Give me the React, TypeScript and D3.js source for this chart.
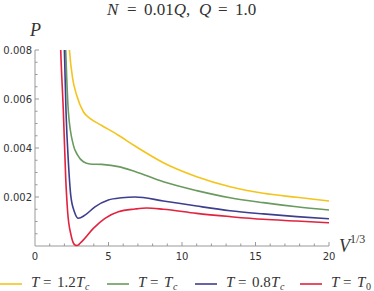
import React from "react";
import { scaleLinear, line, curveMonotoneX, range } from "d3";

const W = 374;
const H = 291;

// yellow, T = 1.2 Tc
const yellowV = [2.25, 2.34, 2.56, 2.83, 3.29, 3.74, 4.54, 5.67, 6.8, 8.73, 11.0, 13.27, 15.53, 17.8, 20];
const yellowP = [0.0088, 0.008, 0.00684, 0.00616, 0.00548, 0.00521, 0.00492, 0.00452, 0.00408, 0.0034, 0.00283, 0.00242, 0.00215, 0.00199, 0.00184];

// green, T = Tc
const greenV = [2.03, 2.09, 2.16, 2.27, 2.61, 2.9, 3.29, 3.74, 4.54, 5.67, 6.8, 8.73, 11.0, 13.27, 15.53, 17.8, 20];
const greenP = [0.009, 0.008, 0.00684, 0.00548, 0.00412, 0.00371, 0.00344, 0.00335, 0.00333, 0.00324, 0.00304, 0.00262, 0.00226, 0.00197, 0.00177, 0.0016, 0.00147];

// blue, T = 0.8 Tc
const blueV = [1.95, 2.0, 2.11, 2.27, 2.43, 2.68, 2.95, 3.4, 4.08, 4.99, 5.9, 6.8, 8.73, 11.0, 13.27, 15.53, 17.8, 20];
const blueP = [0.009, 0.008, 0.00548, 0.00344, 0.00208, 0.0014, 0.00113, 0.00126, 0.0016, 0.00188, 0.00197, 0.002, 0.00184, 0.00163, 0.00144, 0.00131, 0.0012, 0.00111];

// red, T = T0
const redV = [1.7, 1.75, 1.93, 2.09, 2.22, 2.45, 2.72, 2.85, 3.18, 3.97, 4.76, 5.67, 6.8, 7.6, 8.73, 11.0, 13.27, 15.53, 17.8, 20];
const redP = [0.009, 0.008, 0.00548, 0.00276, 0.0014, 0.00045, 0.00004, 0.00002, 0.00018, 0.00072, 0.00113, 0.0014, 0.00151, 0.00155, 0.0015, 0.00133, 0.0012, 0.00109, 0.00102, 0.00095];

const xTicks = [0, 5, 10, 15, 20];
const yTicks = [0.002, 0.004, 0.006, 0.008];
const yTickLabels = ["0.002", "0.004", "0.006", "0.008"];

const series = [
  { v: yellowV, p: yellowP, color: "#f4c41c", coef: "1.2", sub: "c" },
  { v: greenV, p: greenP, color: "#6a9a5e", coef: "", sub: "c" },
  { v: blueV, p: blueP, color: "#3e3e8f", coef: "0.8", sub: "c" },
  { v: redV, p: redP, color: "#e3223e", coef: "", sub: "0" },
];

const legendX = [0, 107, 195, 300];

const serif = "'Liberation Serif', 'DejaVu Serif', serif";
const sans = "'DejaVu Sans', sans-serif";
const axisColor = "#999";
const textColor = "#333";

export default function App() {
  const x = scaleLinear().domain([0, 20]).range([35, 329]);
  const y = scaleLinear().domain([0, 0.008]).range([246, 50]);

  const makePath = (v: number[], p: number[]) =>
    line<number>()
      .x((_, i) => x(v[i]))
      .y((_, i) => y(p[i]))
      .curve(curveMonotoneX)(v) || "";

  return (
    <svg
      width={W}
      height={H}
      style={{ position: "absolute", left: 0, top: 0, background: "#fff" }}
    >
      <defs>
        <clipPath id="plot">
          <rect x={x(0)} y={y(0.008)} width={x(20) - x(0) + 2} height={y(0) - y(0.008) + 2} />
        </clipPath>
      </defs>

      {/* title, spaced like TeX math */}
      <text y={15} fontFamily={serif} fontSize={17} fill={textColor}>
        <tspan x={107} fontStyle="italic">N</tspan>
        <tspan x={127}>=</tspan>
        <tspan x={144}>0.01</tspan>
        <tspan fontStyle="italic">Q</tspan>
        <tspan>,</tspan>
        <tspan x={199} fontStyle="italic">Q</tspan>
        <tspan x={218}>=</tspan>
        <tspan x={235}>1.0</tspan>
      </text>

      {/* axes */}
      <line x1={x(0)} x2={x(20)} y1={y(0)} y2={y(0)} stroke={axisColor} strokeWidth={1} />
      <line x1={x(0)} x2={x(0)} y1={y(0)} y2={y(0.008)} stroke={axisColor} strokeWidth={1} />

      {range(1, 21).map((t) => (
        <line
          key={"xt" + t}
          x1={x(t)}
          x2={x(t)}
          y1={y(0)}
          y2={y(0) - (t % 5 === 0 ? 4 : 2.5)}
          stroke={axisColor}
        />
      ))}
      {range(1, 17).map((k) => {
        const t = k * 0.0005;
        return (
          <line
            key={"yt" + k}
            x1={x(0)}
            x2={x(0) + (k % 4 === 0 ? 4 : 2.5)}
            y1={y(t)}
            y2={y(t)}
            stroke={axisColor}
          />
        );
      })}

      {xTicks.map((t) => (
        <text key={"xl" + t} x={x(t)} y={260} textAnchor="middle" fontFamily={sans} fontSize={10} fill={textColor}>
          {t}
        </text>
      ))}
      {yTicks.map((t, i) => (
        <text key={"yl" + t} x={32} y={y(t) + 3.5} textAnchor="end" fontFamily={sans} fontSize={10} fill={textColor}>
          {yTickLabels[i]}
        </text>
      ))}

      {/* axis labels */}
      <text x={30} y={36} fontFamily={serif} fontSize={18} fontStyle="italic" fill={textColor}>
        P
      </text>
      <text x={339} y={252} fontFamily={serif} fontSize={18} fill={textColor}>
        <tspan fontStyle="italic">V</tspan>
        <tspan fontSize={12} dy={-9}>1/3</tspan>
      </text>

      {/* curves */}
      <g clipPath="url(#plot)">
        {series.map((s) => (
          <path key={s.color} d={makePath(s.v, s.p)} fill="none" stroke={s.color} strokeWidth={1.6} />
        ))}
      </g>

      {/* legend */}
      {series.map((s, i) => {
        const cw = s.coef ? 19 : 0;
        return (
          <g key={"lg" + i} transform={`translate(${legendX[i]},0)`}>
            <line x1={0} x2={22} y1={284} y2={284} stroke={s.color} strokeWidth={1.6} />
            <text y={287} fontFamily={serif} fontSize={15} fill={textColor}>
              <tspan x={31} fontStyle="italic">T</tspan>
              <tspan x={43}>=</tspan>
              {s.coef ? <tspan x={57}>{s.coef}</tspan> : null}
              <tspan x={57 + cw} fontStyle="italic">T</tspan>
              <tspan x={66 + cw} dy={2.5} fontSize={10} fontStyle={s.sub === "c" ? "italic" : "normal"}>
                {s.sub}
              </tspan>
            </text>
          </g>
        );
      })}
    </svg>
  );
}
